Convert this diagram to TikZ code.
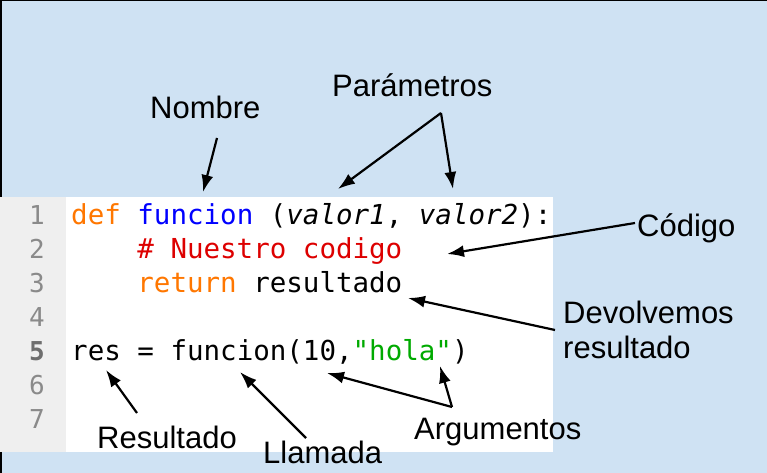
\documentclass[tikz,border=0pt]{standalone}
\usepackage{fontspec}
\setmainfont{Liberation Sans}
\newfontfamily\codefont{DejaVu Sans Mono}
\usetikzlibrary{arrows.meta}
\definecolor{fondo}{HTML}{CFE2F3}
\definecolor{margen}{HTML}{EFEFEF}
\definecolor{gris}{HTML}{8A8A8A}
\definecolor{grisoscuro}{HTML}{6E6E6E}
\definecolor{naranja}{HTML}{FF7700}
\definecolor{azul}{HTML}{0000FF}
\definecolor{rojo}{HTML}{DD0000}
\definecolor{verde}{HTML}{00AA00}
\tikzset{
  etiqueta/.style={inner sep=0pt, anchor=base west, font=\fontsize{31}{35}\selectfont},
  codigo/.style={inner sep=0pt, anchor=base west, font=\codefont\fontsize{27.5}{34}\selectfont},
  numero/.style={inner sep=0pt, anchor=base east, text=gris, font=\codefont\fontsize{26}{34}\selectfont},
  flecha/.style={-{Latex[length=17pt,width=12pt]}, line width=2.2pt},
}
\begin{document}
\begin{tikzpicture}[x=1pt,y=-1pt]
    \useasboundingbox (0,0) rectangle (767,473);
    \fill[fondo] (0,0) rectangle (767,473);
    \draw[line width=1.5pt] (0.75,473) -- (0.75,0.75) -- (767,0.75);
    \fill[white] (0,197) rectangle (553,452);
    \fill[margen] (0,197) rectangle (66,452);

    \foreach \n in {1,2,3,4,6,7}
        \node[numero] (n\n) at (45,{224+34*(\n-1)}) {\n};
    \node[numero, text=grisoscuro, font=\codefont\bfseries\fontsize{26}{34}\selectfont] (n5) at (45,360) {5};

    \node[codigo] (l1) at (71,224) {\textcolor{naranja}{def} \textcolor{azul}{funcion} (\textit{valor1}, \textit{valor2}):};
    \node[codigo, text=rojo] (l2) at (137.2,258) {\# Nuestro codigo};
    \node[codigo] (l3) at (137.2,292) {\textcolor{naranja}{return} resultado};
    \node[codigo] (l5) at (71,360) {res = funcion(10,\textcolor{verde}{"hola"})};

    \node[etiqueta] (nombre) at (150,119) {Nombre};
    \node[etiqueta] (parametros) at (332,97) {Parámetros};
    \node[etiqueta] (codigo) at (637,236) {Código};
    \node[etiqueta, align=left] (devolvemos) at (563,358) {Devolvemos\\resultado};
    \node[etiqueta] (resultado) at (97,448) {Resultado};
    \node[etiqueta] (llamada) at (263,463) {Llamada};
    \node[etiqueta] (argumentos) at (414,439) {Argumentos};

    \coordinate (nombre-a) at (217,138);
    \coordinate (nombre-b) at (203,192);
    \coordinate (param-a) at (441,113);
    \coordinate (param-b) at (338,189);
    \coordinate (param-c) at (453,189);
    \coordinate (codigo-a) at (635,223);
    \coordinate (codigo-b) at (447,254);
    \coordinate (devol-a) at (555,330);
    \coordinate (devol-b) at (408,298);
    \coordinate (res-a) at (137,413);
    \coordinate (res-b) at (106,370);
    \coordinate (llam-a) at (306,438);
    \coordinate (llam-b) at (240,372);
    \coordinate (arg-a) at (452,407);
    \coordinate (arg-b) at (327,373);
    \coordinate (arg-c) at (440,366);

    \draw[flecha] (nombre-a) -- (nombre-b);
    \draw[flecha] (param-a) -- (param-b);
    \draw[flecha] (param-a) -- (param-c);
    \draw[flecha] (codigo-a) -- (codigo-b);
    \draw[flecha] (devol-a) -- (devol-b);
    \draw[flecha] (res-a) -- (res-b);
    \draw[flecha] (llam-a) -- (llam-b);
    \draw[flecha] (arg-a) -- (arg-b);
    \draw[flecha] (arg-a) -- (arg-c);
\end{tikzpicture}
\end{document}
